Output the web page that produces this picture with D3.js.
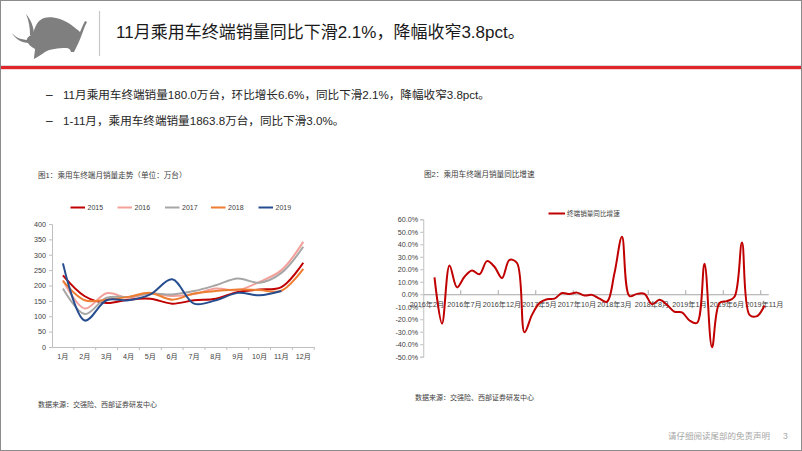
<!DOCTYPE html>
<html><head><meta charset="utf-8">
<script src="https://cdn.jsdelivr.net/npm/d3@7"></script>
<style>
html,body{margin:0;padding:0;background:#fff;}
svg{display:block;font-family:"Liberation Sans","Noto Sans CJK SC",sans-serif;}
</style></head>
<body>
<svg id="c" width="802" height="451"></svg>
<script>
// ---------- data ----------
const pageTitle = "11月乘用车终端销量同比下滑2.1%，降幅收窄3.8pct。";
const bullets = ["11月乘用车终端销量180.0万台，环比增长6.6%，同比下滑2.1%，降幅收窄3.8pct。",
                 "1-11月，乘用车终端销量1863.8万台，同比下滑3.0%。"];
const chart1Title = "图1：乘用车终端月销量走势（单位：万台）";
const chart2Title = "图2：乘用车终端月销量同比增速";
const sourceText = "数据来源：交强险、西部证券研发中心";
const footerText = "请仔细阅读尾部的免责声明";

const months = ["1月","2月","3月","4月","5月","6月","7月","8月","9月","10月","11月","12月"];
const years = ["2015","2016","2017","2018","2019"];
const sales2015 = [233,165,143,154,157,141,152,157,179,187,195,274];
const sales2016 = [217,125,175,160,174,166,172,190,185,212,250,342];
const sales2017 = [190,107,160,163,174,171,182,201,223,209,241,326];
const sales2018 = [215,152,154,163,176,154,174,182,187,185,183,254];
const sales2019 = [272,86,152,152,171,220,141,152,176,168,182];
const salesTicks = [0,50,100,150,200,250,300,350,400];
const yearColors = ["#c00000","#f4a09a","#a6a6a6","#ed7d31","#254d8f"];

const yoyMonths = ["2016年2月","2016年3月","2016年4月","2016年5月","2016年6月","2016年7月","2016年8月","2016年9月","2016年10月","2016年11月","2016年12月",
 "2017年1月","2017年2月","2017年3月","2017年4月","2017年5月","2017年6月","2017年7月","2017年8月","2017年9月","2017年10月","2017年11月","2017年12月",
 "2018年1月","2018年2月","2018年3月","2018年4月","2018年5月","2018年6月","2018年7月","2018年8月","2018年9月","2018年10月","2018年11月","2018年12月",
 "2019年1月","2019年2月","2019年3月","2019年4月","2019年5月","2019年6月","2019年7月","2019年8月","2019年9月","2019年10月","2019年11月"];
const yoyValues = [null,13.5,-23.5,23,5.5,14,19,16,26.5,22,13,
 27.5,25,-30.5,-16.5,-7,-4,-3.5,1,0.2,1.3,-1,-0.5,
 -3.5,-6,17,46,-1.5,0.3,0.3,-8,-4.5,-8.5,-14,-14.5,
 -21,-23,24.5,-42.5,-7,-5.5,-2,41.5,-16.5,-17.5,-9];
const yoyTickLabels = ["2016年2月","2016年7月","2016年12月","2017年5月","2017年10月","2018年3月","2018年8月","2019年1月","2019年6月","2019年11月"];
const yoyTicks = [-50,-40,-30,-20,-10,0,10,20,30,40,50,60];
const yoyName = "终端销量同比增速";

// ---------- page ----------
const svg = d3.select("#c");
svg.append("rect").attr("x",0.5).attr("y",0.5).attr("width",801).attr("height",450)
  .attr("fill","#fff").attr("stroke","#8c8c8c").attr("stroke-width",1);

// logo (bull silhouette)
const logo = svg.append("g").attr("fill","#7f7f7f");
logo.append("path").attr("d","M33,34 C35,26 38,20 44,18 C52,16 62,19 70,24 C74,27 78,30 80,32 L83,25 L85,21 L87,22 L85,26 L82,34 C80,40 77,46 74,52 L71,52 C70,49 69,48 66,48 C58,48 50,49 45,52 C42,54 38,57 34,59 C34,55 35,52 35,49 C31,47 28,44 27,41 C26,38 29,36 33,34 Z");
logo.append("path").attr("d","M34,35 C34,27 31,20 26,14 C29,21 30,28 30,35 Z");
logo.append("path").attr("d","M29,40 C22,40 16,38 12,33 C15,39 22,43 29,43 Z");
svg.append("line").attr("x1",99.5).attr("x2",99.5).attr("y1",11).attr("y2",56)
  .attr("stroke","#c8c8c8").attr("stroke-width",1.2);
svg.append("text").attr("x",116).attr("y",38).attr("font-size",17).attr("fill","#1a1a1a").text(pageTitle);
svg.append("rect").attr("x",1).attr("y",65).attr("width",800).attr("height",1).attr("fill","#d9d9d9");
svg.append("rect").attr("x",1).attr("y",66).attr("width",800).attr("height",3.2).attr("fill","#e0252b");

bullets.forEach((b,i)=>{
  const y = 99 + i*26;
  svg.append("text").attr("x",46).attr("y",y).attr("font-size",12).attr("fill","#262626").text("–");
  svg.append("text").attr("x",63).attr("y",y).attr("font-size",11.6).attr("fill","#262626").text(b);
});

svg.append("text").attr("x",668).attr("y",439).attr("font-size",8.5).attr("fill","#a6a6a6").text(footerText);
svg.append("text").attr("x",783).attr("y",439).attr("font-size",8.5).attr("fill","#a6a6a6").text("3");

// ---------- chart 1 ----------
const g1 = svg.append("g");
g1.append("text").attr("x",38).attr("y",178).attr("font-size",7.6).attr("fill","#404040").text(chart1Title);
g1.append("text").attr("x",38).attr("y",407).attr("font-size",7).attr("fill","#404040").text(sourceText);

const xL = d3.scaleBand().domain(months).range([52,314.2]);
const yL = d3.scaleLinear().domain([0,400]).range([347,224]);

const yAxL = g1.append("g").attr("transform","translate(52,0)")
  .call(d3.axisLeft(yL).tickValues(salesTicks).tickSize(3).tickPadding(3));
const xAxL = g1.append("g").attr("transform","translate(0,347)")
  .call(d3.axisBottom(xL).tickSize(0).tickPadding(7));
[yAxL,xAxL].forEach(a=>{
  a.select(".domain").attr("stroke","#bfbfbf");
  a.selectAll(".tick line").attr("stroke","#bfbfbf");
  a.selectAll("text").attr("font-size",7.2).attr("fill","#404040").attr("font-family",'"Liberation Sans","Noto Sans CJK SC",sans-serif');
});
// category boundary ticks
g1.append("g").selectAll("line").data(months).join("line")
  .attr("x1",d=>xL(d)+xL.bandwidth()).attr("x2",d=>xL(d)+xL.bandwidth())
  .attr("y1",347).attr("y2",350).attr("stroke","#bfbfbf");

const salesSeries = [sales2015,sales2016,sales2017,sales2018,sales2019];
const lineL = d3.line()
  .x((d,i)=>xL(months[i])+xL.bandwidth()/2)
  .y(d=>yL(d))
  .curve(d3.curveCatmullRom.alpha(0.5));
salesSeries.forEach((s,k)=>{
  g1.append("path").attr("d",lineL(s)).attr("fill","none")
    .attr("stroke",yearColors[k]).attr("stroke-width",2);
});
// legend
const legX = [70.5,117.5,165,211,258.5];
years.forEach((yname,k)=>{
  g1.append("line").attr("x1",legX[k]).attr("x2",legX[k]+14.5).attr("y1",207.5).attr("y2",207.5)
    .attr("stroke",yearColors[k]).attr("stroke-width",2);
  g1.append("text").attr("x",legX[k]+17).attr("y",210).attr("font-size",7).attr("fill","#404040").text(yname);
});

// ---------- chart 2 ----------
const g2 = svg.append("g");
g2.append("text").attr("x",424).attr("y",177).attr("font-size",7.6).attr("fill","#404040").text(chart2Title);
g2.append("text").attr("x",415).attr("y",400).attr("font-size",7).attr("fill","#404040").text(sourceText);

const xR = d3.scaleBand().domain(yoyMonths).range([423.25,768.25]);
const yR = d3.scaleLinear().domain([-50,60]).range([356.7,219.3]);

const yAxR = g2.append("g").attr("transform","translate(423.25,0)")
  .call(d3.axisLeft(yR).tickValues(yoyTicks).tickSize(3).tickPadding(2).tickFormat(d=>d.toFixed(1)+"%"));
yAxR.select(".domain").attr("stroke","#bfbfbf");
yAxR.selectAll(".tick line").attr("stroke","#bfbfbf");
yAxR.selectAll("text").attr("font-size",7.2).attr("fill","#404040").attr("font-family",'"Liberation Sans","Noto Sans CJK SC",sans-serif');

const xAxR = g2.append("g").attr("transform",`translate(0,${yR(0)})`)
  .call(d3.axisBottom(xR).tickValues(yoyTickLabels).tickSize(0).tickPadding(7.5));
xAxR.select(".domain").attr("stroke","#a6a6a6");
xAxR.selectAll("text").attr("font-size",7.2).attr("fill","#404040").attr("font-family",'"Liberation Sans","Noto Sans CJK SC",sans-serif');
// boundary ticks every 5 categories
g2.append("g").selectAll("line").data(yoyTickLabels.slice(1)).join("line")
  .attr("x1",d=>xR(d)).attr("x2",d=>xR(d))
  .attr("y1",yR(0)-4).attr("y2",yR(0)).attr("stroke","#a6a6a6");

const lineR = d3.line()
  .defined(d=>d!=null)
  .x((d,i)=>xR(yoyMonths[i])+xR.bandwidth()/2)
  .y(d=>yR(d))
  .curve(d3.curveCatmullRom.alpha(0.5));
g2.append("path").attr("d",lineR(yoyValues)).attr("fill","none")
  .attr("stroke","#c00000").attr("stroke-width",2);
g2.append("line").attr("x1",548.5).attr("x2",565).attr("y1",213.5).attr("y2",213.5)
  .attr("stroke","#c00000").attr("stroke-width",2);
g2.append("text").attr("x",567).attr("y",216).attr("font-size",6.6).attr("fill","#404040").text(yoyName);
</script>
</body></html>
